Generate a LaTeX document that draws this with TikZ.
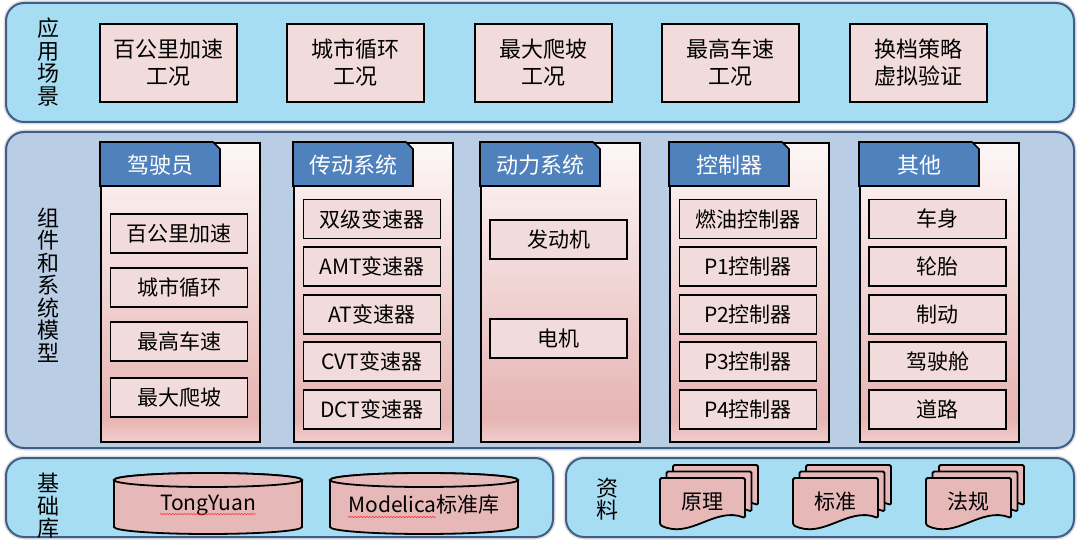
\documentclass[tikz,border=0pt]{standalone}
\usepackage{fontspec}
\setmainfont{Noto Sans CJK SC}
\usetikzlibrary{calc,decorations.pathmorphing}

\definecolor{sceneblue}{HTML}{A6DDF3}
\definecolor{modelblue}{HTML}{B9CDE5}
\definecolor{frameblue}{HTML}{3E5E8C}
\definecolor{boxpink}{HTML}{F2DCDB}
\definecolor{deeppink}{HTML}{E6B9B8}
\definecolor{tabblue}{HTML}{4F81BD}
\definecolor{cardtop}{HTML}{FDF7F7}
\definecolor{cardmid}{HTML}{E6B4B3}
\definecolor{cardbot}{HTML}{EFCDCC}

% card body: near white at the top, rose towards the bottom
\pgfdeclareverticalshading{cardfade}{100bp}{color(0bp)=(cardbot); color(25bp)=(cardbot); color(29bp)=(cardmid); color(75bp)=(cardtop); color(100bp)=(cardtop)}

\tikzset{
  panelshadow/.style={draw=gray!25, line width=5, rounded corners=18},
  panel/.style={draw=frameblue, line width=2, rounded corners=18},
  vlabel/.style={align=center, inner sep=0, font=\fontsize{22}{22.5}\selectfont},
  scenebox/.style={draw=black, line width=1.8, fill=boxpink, minimum width=137, minimum height=78,
    inner sep=0, align=center, font=\fontsize{22}{27}\selectfont},
  cardbody/.style={draw=black, line width=1.6, shading=cardfade, minimum width=159, minimum height=299,
    inner sep=0, anchor=north west},
  tabshape/.style={draw=black, line width=1.6, fill=tabblue},
  tabtext/.style={text=white, inner sep=0, font=\fontsize{22}{22}\selectfont},
  itembox/.style={draw=black, line width=1.6, fill=boxpink, minimum width=137, minimum height=39,
    inner sep=0, font=\fontsize{21}{21}\selectfont},
  cylbody/.style={draw=black, line width=1.8, fill=deeppink},
  docpage/.style={draw=black, line width=1.8, fill=deeppink, rounded corners=1.5},
  doctext/.style={inner sep=0, font=\fontsize{21}{21}\selectfont},
  squiggle/.style={draw=red!80, line width=0.5, decorate, decoration={snake, amplitude=0.8, segment length=3}}
}

% a model card with its folded title tab
\newcommand\modelcard[3]{%
  \node[cardbody] (#1) at (#2,142) {};
  \draw[tabshape] (#1.north west) -- ++(113,0) -- ++(7,7) -- ++(0,37) -- ++(-120,0) -- cycle;
  \node[tabtext] (#1-title) at ($(#1.north west)+(60,23)$) {#3};
}

% a stack of three document sheets; #1 name, #2 left, #3 top, #4 text
\newcommand\docstack[4]{%
  \foreach \o in {13,6.5,0}{
    \draw[docpage, shift={(#2+\o,#3-\o)}] (0,47) -- (0,0) -- (85,0) -- (85,40)
      .. controls (55,28) and (30,62) .. (0,47) -- cycle;
  }
  \node[doctext] (#1) at (#2+42,#3+24) {#4};
}

% a database cylinder; #1 name, #2 centre x, #3 text
\newcommand\dbcyl[3]{%
  \path[cylbody] (#2-94,480) -- (#2-94,527)
    arc[start angle=180, end angle=0, x radius=94, y radius=7] -- (#2+94,480)
    arc[start angle=0, end angle=-180, x radius=94, y radius=7] -- cycle;
  \draw[cylbody] (#2,480) ellipse[x radius=94, y radius=7];
  \node[doctext] (#1) at (#2,505) {#3};
}

\begin{document}
\begin{tikzpicture}[x=1pt, y=-1pt]
\useasboundingbox (0,0) rectangle (1080,540);

% layer panels
\foreach \a/\b in {{(6,3)}/{(1074,122)}, {(6,132)}/{(1074,448)}, {(6,458)}/{(553,537)}, {(566,458)}/{(1074,537)}}{
  \draw[panelshadow] \a rectangle \b;
}
\draw[panel, fill=sceneblue] (6,3) rectangle (1074,122);
\draw[panel, fill=modelblue] (6,132) rectangle (1074,448);
\draw[panel, fill=sceneblue] (6,458) rectangle (553,537);
\draw[panel, fill=sceneblue] (566,458) rectangle (1074,537);

% application scenarios
\node[vlabel] (scene-label) at (48,62) {应\\用\\场\\景};
\node[scenebox] (s1) at (168.5,63) {百公里加速\\工况};
\node[scenebox] (s2) at (355.5,63) {城市循环\\工况};
\node[scenebox] (s3) at (543.5,63) {最大爬坡\\工况};
\node[scenebox] (s4) at (730.5,63) {最高车速\\工况};
\node[scenebox] (s5) at (918.5,63) {换档策略\\虚拟验证};

% components and system models
\node[vlabel] (model-label) at (48,285) {组\\件\\和\\系\\统\\模\\型};

\modelcard{driver}{100}{驾驶员}
\modelcard{trans}{293}{传动系统}
\modelcard{power}{480}{动力系统}
\modelcard{ctrl}{669}{控制器}
\modelcard{other}{859}{其他}

\node[itembox] (d1) at (179,233.5) {百公里加速};
\node[itembox] (d2) at (179,287.5) {城市循环};
\node[itembox] (d3) at (179,341.5) {最高车速};
\node[itembox] (d4) at (179,397.5) {最大爬坡};

\node[itembox] (t1) at (372,219) {双级变速器};
\node[itembox] (t2) at (372,266.5) {AMT变速器};
\node[itembox] (t3) at (372,314.5) {AT变速器};
\node[itembox] (t4) at (372,361.5) {CVT变速器};
\node[itembox] (t5) at (372,409.5) {DCT变速器};

\node[itembox] (p1) at (558.5,239.5) {发动机};
\node[itembox] (p2) at (558.5,338.5) {电机};

\node[itembox] (c1) at (748,219) {燃油控制器};
\node[itembox] (c2) at (748,266.5) {P1控制器};
\node[itembox] (c3) at (748,314.5) {P2控制器};
\node[itembox] (c4) at (748,361.5) {P3控制器};
\node[itembox] (c5) at (748,409.5) {P4控制器};

\node[itembox] (o1) at (937.5,219) {车身};
\node[itembox] (o2) at (937.5,266.5) {轮胎};
\node[itembox] (o3) at (937.5,314.5) {制动};
\node[itembox] (o4) at (937.5,361.5) {驾驶舱};
\node[itembox] (o5) at (937.5,409.5) {道路};

% base libraries
\node[vlabel] (base-label) at (48,506) {基\\础\\库};
\dbcyl{tongyuan}{208}{TongYuan}
\dbcyl{modelica}{424}{Modelica标准库}
\draw[squiggle] ($(tongyuan.base west)+(0,4)$) -- ($(tongyuan.base east)+(0,4)$);
\draw[squiggle] ($(modelica.base west)+(0,4)$) -- ++(88,0);

% reference material
\node[vlabel] (doc-label) at (607,499) {资\\料};
\docstack{principle}{660}{478}{原理}
\docstack{standard}{793}{478}{标准}
\docstack{regulation}{926}{478}{法规}

\end{tikzpicture}
\end{document}
